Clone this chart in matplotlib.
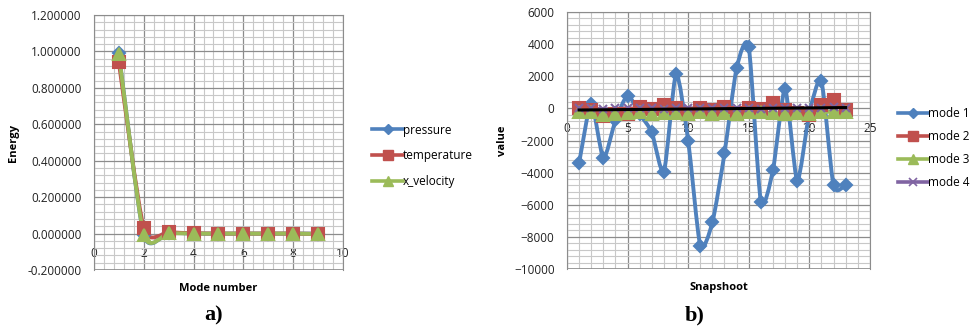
import matplotlib
matplotlib.use("Agg")
import matplotlib.pyplot as plt
import numpy as np
from matplotlib.path import Path
from matplotlib.patches import PathPatch
from matplotlib.lines import Line2D
from matplotlib.ticker import MultipleLocator, FormatStrFormatter

plt.rcParams["font.family"] = ["Open Sans", "DejaVu Sans"]

# ---- panel a) energy per mode ----
modes = [1, 2, 3, 4, 5, 6, 7, 8, 9]
pressure = [0.99, -0.008, 0.004, 0.0, 0.0, 0.0, 0.0, 0.0, 0.0]
temperature = [0.94, 0.03, 0.008, 0.002, 0.0, 0.0, 0.0, 0.0, -0.002]
x_velocity = [0.985, -0.005, 0.002, 0.0, 0.0, 0.0, 0.0, 0.0, -0.002]

# ---- panel b) temporal coefficients per snapshot ----
snapshots = list(range(1, 24))
mode1 = [-3400, 300, -3100, -750, 800, -350, -1500, -3950, 2150, -2000, -8550, -7100,
         -2800, 2500, 3850, -5800, -3850, 1200, -4500, -300, 1700, -4800, -4750]
mode2 = [50, -100, -450, -350, -350, 100, -50, 200, 0, -350, 0, -100,
         100, -300, 0, -50, 350, -100, -300, -400, 200, 500, -100]
mode3 = [-250, -250, -400, -350, -300, -250, -350, -300, -300, -350, -250, -350,
         -300, -350, -250, -250, -300, -350, -300, -350, -250, -200, -250]
mode4 = [20, 30, -20, 10, 40, 0, 30, -10, 20, 50, 10, 40,
         0, 30, 20, -20, 10, 40, 20, 0, 30, 60, 40]
trend_x = [1, 23]
trend_y = [-100, 50]

BLUE = "#4F81BD"
RED = "#C0504D"
GREEN = "#9BBB59"
PURPLE = "#8064A2"
GRID_MAJ = "#8c8c8c"
GRID_MIN = "#c8c8c8"
TENSION = 1 / 9


def smooth_path(x, y):
    # Excel-like smoothed line: cubic Bezier through every point
    p = np.column_stack([x, y]).astype(float)
    ext = np.vstack([p[0], p, p[-1]])
    verts = [p[0]]
    codes = [Path.MOVETO]
    for i in range(len(p) - 1):
        c1 = ext[i + 1] + (ext[i + 2] - ext[i]) * TENSION
        c2 = ext[i + 2] - (ext[i + 3] - ext[i + 1]) * TENSION
        verts += [c1, c2, ext[i + 2]]
        codes += [Path.CURVE4] * 3
    return Path(verts, codes)


def draw_series(ax, x, y, color, marker, ms, lw=2.8, z=3):
    patch = PathPatch(smooth_path(x, y), facecolor="none", edgecolor=color,
                      lw=lw, capstyle="round", joinstyle="round", zorder=z)
    ax.add_patch(patch)
    ax.plot(x, y, linestyle="none", marker=marker, ms=ms, color=color,
            mec=color, mew=1.5, zorder=z + 0.1)


def style_axes(ax, xmaj, xmin, ymaj, ymin):
    ax.xaxis.set_major_locator(MultipleLocator(xmaj))
    ax.xaxis.set_minor_locator(MultipleLocator(xmin))
    ax.yaxis.set_major_locator(MultipleLocator(ymaj))
    ax.yaxis.set_minor_locator(MultipleLocator(ymin))
    ax.grid(which="major", color=GRID_MAJ, lw=0.9)
    ax.grid(which="minor", color=GRID_MIN, lw=0.8)
    ax.set_axisbelow(True)
    for s in ["top", "right", "left"]:
        ax.spines[s].set_color(GRID_MAJ)
    ax.spines["bottom"].set_position(("data", 0))
    ax.spines["bottom"].set_visible(False)
    ax.tick_params(which="both", length=0, labelsize=8.5, colors="#222222")
    ax.tick_params(axis="x", pad=10)
    ax.tick_params(axis="y", pad=9)


fig = plt.figure(figsize=(9.8, 3.32), dpi=100)

# panel a
ax1 = fig.add_axes([0.0959, 0.1867, 0.254, 0.768])
ax1.set_xlim(0, 10)
ax1.set_ylim(-0.2, 1.2)
style_axes(ax1, 2, 0.4, 0.2, 0.04)
ax1.yaxis.set_major_formatter(FormatStrFormatter("%.6f"))
ax1.axhline(-0.2, color=GRID_MAJ, lw=1.2, zorder=1)
draw_series(ax1, modes, pressure, BLUE, "D", 6.5)
draw_series(ax1, modes, temperature, RED, "s", 8)
draw_series(ax1, modes, x_velocity, GREEN, "^", 8)
ax1.set_xlabel("Mode number", fontsize=8, fontweight="bold")
ax1.set_ylabel("Energy", fontsize=8, fontweight="bold", labelpad=6)
ax1.xaxis.set_label_coords(0.5, -0.05)

h1 = [Line2D([], [], color=BLUE, lw=2.6, marker="D", ms=5),
      Line2D([], [], color=RED, lw=2.6, marker="s", ms=6.5),
      Line2D([], [], color=GREEN, lw=2.6, marker="^", ms=6.5)]
fig.legend(h1, ["pressure", "temperature", "x_velocity"], loc="upper left",
           bbox_to_anchor=(0.369, 0.66), frameon=False, fontsize=8.5,
           handlelength=2.6, handletextpad=0.0, labelspacing=1.1)

# panel b
ax2 = fig.add_axes([0.5786, 0.1898, 0.309, 0.774])
ax2.set_xlim(0, 25)
ax2.set_ylim(-10000, 6000)
style_axes(ax2, 5, 1, 2000, 400)
ax2.axhline(-10000, color=GRID_MAJ, lw=1.2, zorder=1)
draw_series(ax2, snapshots, mode1, BLUE, "D", 6.5)
draw_series(ax2, snapshots, mode2, RED, "s", 8)
draw_series(ax2, snapshots, mode3, GREEN, "^", 8)
draw_series(ax2, snapshots, mode4, PURPLE, "x", 6, lw=2.0)
ax2.plot(trend_x, trend_y, color="black", lw=2.2, zorder=6)
ax2.set_xlabel("Snapshoot", fontsize=8, fontweight="bold")
ax2.set_ylabel("value", fontsize=8, fontweight="bold", labelpad=4)
ax2.xaxis.set_label_coords(0.5, -0.05)

h2 = [Line2D([], [], color=BLUE, lw=2.6, marker="D", ms=5),
      Line2D([], [], color=RED, lw=2.6, marker="s", ms=6.5),
      Line2D([], [], color=GREEN, lw=2.6, marker="^", ms=6.5),
      Line2D([], [], color=PURPLE, lw=2.6, marker="x", ms=6, mew=1.2)]
fig.legend(h2, ["mode 1", "mode 2", "mode 3", "mode 4"], loc="upper left",
           bbox_to_anchor=(0.905, 0.71), frameon=False, fontsize=8.5,
           handlelength=2.6, handletextpad=0.0, labelspacing=0.85)

fig.text(0.218, 0.035, "a)", fontsize=16, fontweight="bold",
         family="Liberation Serif", ha="center")
fig.text(0.709, 0.035, "b)", fontsize=16, fontweight="bold",
         family="Liberation Serif", ha="center")

fig.savefig("out.png", dpi=100)
